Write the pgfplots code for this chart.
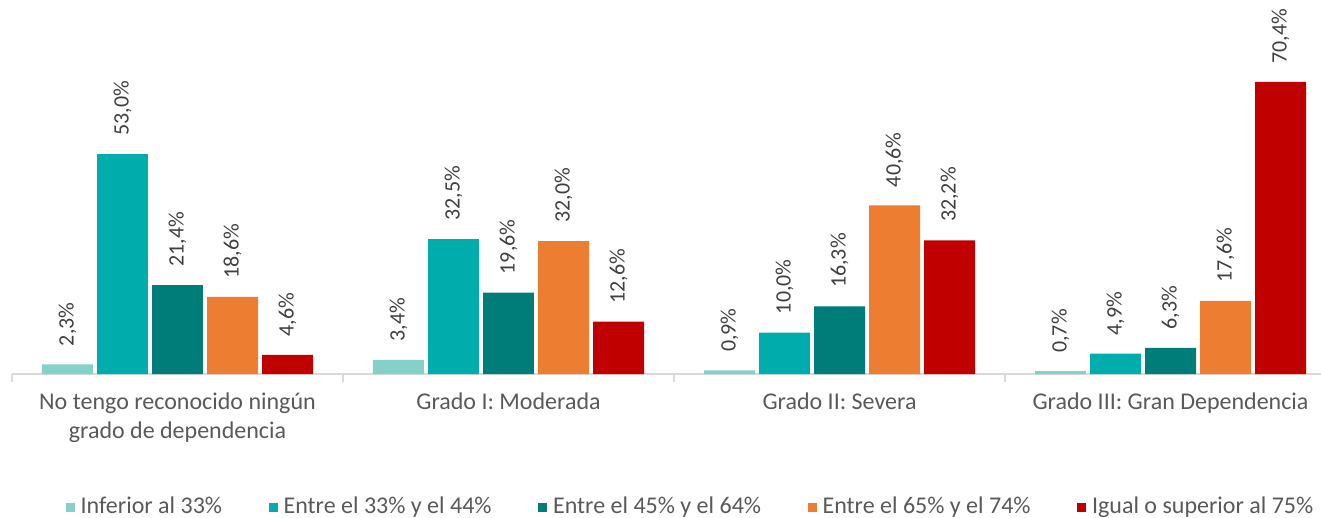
\documentclass[border=0pt]{standalone}
\usepackage{fontspec}
\setmainfont{Carlito}
\usepackage{pgfplots}
\pgfplotsset{compat=1.18}
\definecolor{cA}{HTML}{86D0CA}
\definecolor{cB}{HTML}{00ADAD}
\definecolor{cC}{HTML}{007D78}
\definecolor{cD}{HTML}{ED7D31}
\definecolor{cE}{HTML}{C00000}
\definecolor{txt}{HTML}{595959}
\definecolor{lbl}{HTML}{404040}
\definecolor{axl}{HTML}{D9D9D9}
\begin{document}
\begin{tikzpicture}
\begin{axis}[
  name=ax,
  scale only axis,
  width=654.5pt, height=187pt,
  xmin=-0.5, xmax=3.4547,
  ymin=0, ymax=90.1,
  clip=false,
  axis x line*=bottom,
  axis y line=none,
  x axis line style={draw=axl, line width=1pt},
  xtick={0,1,2,3},
  xticklabels={{No tengo reconocido ningún\\grado de dependencia},{Grado I: Moderada},{Grado II: Severa},{Grado III: Gran Dependencia}},
  xticklabel style={align=center, font=\fontsize{12}{14.5}\selectfont, text=txt, yshift=-6pt},
  major tick length=0pt,
  minor xtick={-0.5,0.5,1.5,2.5},
  minor tick length=4pt,
  tick align=outside,
  every minor tick/.style={draw=axl, line width=1pt},
  ybar, bar width=0.154,
  /pgf/number format/assume math mode=true,
  nodes near coords={\pgfmathprintnumber[fixed,fixed zerofill,precision=1,use comma]{\pgfplotspointmeta}\%},
  every node near coord/.append style={rotate=90, anchor=west, inner xsep=9pt, inner ysep=0pt, font=\fontsize{11}{13}\selectfont, text=lbl},
  legend style={at={(axis description cs:0.5191,-0.3556)}, anchor=center, draw=none, fill=none,
    legend columns=5, font=\fontsize{12}{14}\selectfont, text=txt,
    /tikz/every even column/.append style={column sep=21.25pt}},
  legend image code/.code={\fill[#1] (0pt,-2.25pt) rectangle (4.5pt,2.25pt); \path (5.5pt,0pt);},
]
\addplot[fill=cA, draw=none, bar shift=-0.3324] coordinates {(0,2.3) (1,3.4) (2,0.9) (3,0.7)};
\addplot[fill=cB, draw=none, bar shift=-0.1662] coordinates {(0,53.0) (1,32.5) (2,10.0) (3,4.9)};
\addplot[fill=cC, draw=none, bar shift=0] coordinates {(0,21.4) (1,19.6) (2,16.3) (3,6.3)};
\addplot[fill=cD, draw=none, bar shift=0.1662] coordinates {(0,18.6) (1,32.0) (2,40.6) (3,17.6)};
\addplot[fill=cE, draw=none, bar shift=0.3324] coordinates {(0,4.6) (1,12.6) (2,32.2) (3,70.4)};
\legend{Inferior al 33\%, Entre el 33\% y el 44\%, Entre el 45\% y el 64\%, Entre el 65\% y el 74\%, Igual o superior al 75\%}
\end{axis}
\pgfresetboundingbox
\path ([xshift=-6pt,yshift=-71.5pt]ax.south west) rectangle (ax.north east);
\end{tikzpicture}
\end{document}
